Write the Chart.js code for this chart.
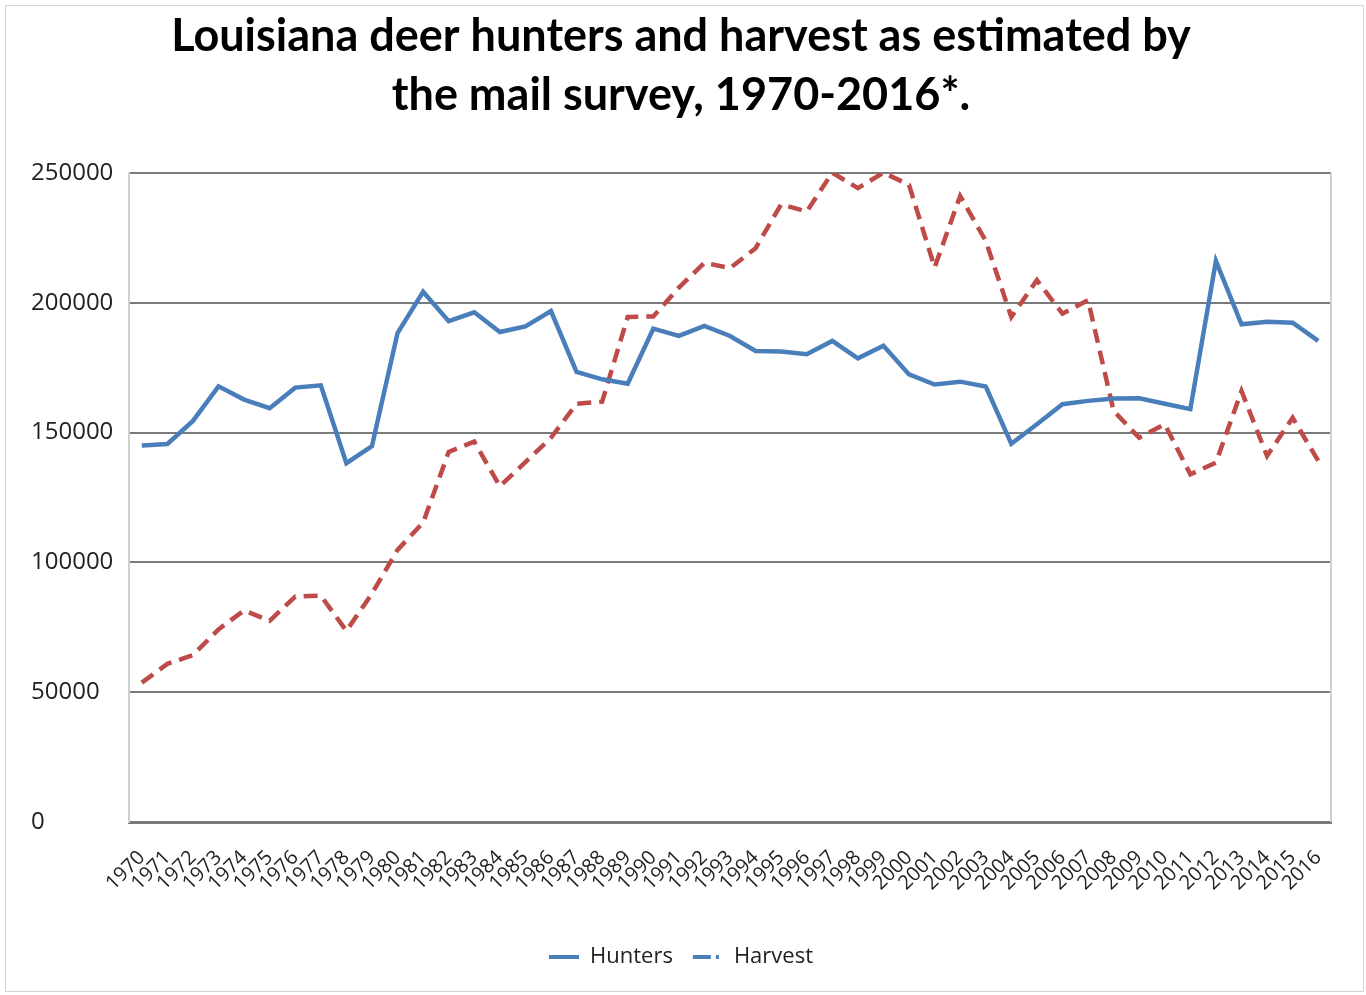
<!DOCTYPE html>
<html>
<head>
<meta charset="utf-8">
<script src="https://cdn.jsdelivr.net/npm/chart.js@4.4.0/dist/chart.umd.min.js"></script>
<style>
  html, body { margin: 0; padding: 0; background: #fff; }
  #wrap { position: absolute; left: 5px; top: 5px; width: 1359px; height: 987px; border: 1px solid #d4d4d4; box-sizing: border-box; }
  #chart { position: absolute; left: -5px; top: -5px; }
</style>
</head>
<body>
<div id="wrap"><canvas id="chart" width="1366" height="995"></canvas></div>
<script>
const years = ['1970','1971','1972','1973','1974','1975','1976','1977','1978','1979',
  '1980','1981','1982','1983','1984','1985','1986','1987','1988','1989',
  '1990','1991','1992','1993','1994','1995','1996','1997','1998','1999',
  '2000','2001','2002','2003','2004','2005','2006','2007','2008','2009',
  '2010','2011','2012','2013','2014','2015','2016'];

const hunters = [145000, 145600, 154500, 167800, 162700, 159400, 167300, 168200, 138200, 144800,
  188300, 204200, 192900, 196300, 188700, 190900, 196800, 173400, 170500, 168800,
  190000, 187200, 191100, 187200, 181400, 181200, 180200, 185300, 178600, 183400,
  172400, 168500, 169600, 167700, 145700, 153200, 160900, 162200, 163100, 163200,
  161100, 159000, 216100, 191700, 192700, 192300, 185300];

const harvest = [53700, 60900, 64300, 74200, 81500, 77500, 86800, 87200, 73600, 88000,
  104800, 115300, 142500, 146500, 129300, 138600, 148000, 161100, 161900, 194500,
  194700, 205800, 215400, 213300, 221000, 237900, 235100, 250100, 244100, 250100,
  245400, 213600, 241100, 223800, 194500, 208700, 195800, 201000, 158300, 148000,
  153200, 133900, 138400, 166000, 141000, 155700, 139100];

const yTicks = [0, 50000, 100000, 150000, 200000, 250000];

const blue = '#4a7ebb';
const red = '#be4b48';

// thin light frame on the right side of the plot area
const rightBorder = {
  id: 'rightBorder',
  afterDraw(chart) {
    const a = chart.chartArea;
    const ctx = chart.ctx;
    ctx.save();
    ctx.strokeStyle = '#d0d0d0';
    ctx.lineWidth = 2;
    ctx.beginPath();
    ctx.moveTo(a.right, a.top);
    ctx.lineTo(a.right, a.bottom);
    ctx.stroke();
    ctx.restore();
  }
};

new Chart(document.getElementById('chart'), {
  type: 'line',
  data: {
    labels: years,
    datasets: [
      {
        label: 'Hunters',
        data: hunters,
        borderColor: blue,
        borderWidth: 4.5,
        pointRadius: 0,
        tension: 0
      },
      {
        label: 'Harvest',
        data: harvest,
        borderColor: red,
        borderWidth: 4.5,
        borderDash: [14, 8],
        pointRadius: 0,
        tension: 0
      }
    ]
  },
  options: {
    responsive: false,
    animation: false,
    layout: { padding: { left: 30, right: 36, top: 6, bottom: 18 } },
    plugins: {
      title: {
        display: true,
        text: ['Louisiana deer hunters and harvest as estimated by', 'the mail survey, 1970-2016*.'],
        color: '#000',
        font: { family: 'Lato', size: 45, weight: 'bold', lineHeight: 1.31 },
        padding: { top: 0, bottom: 48 }
      },
      legend: {
        position: 'bottom',
        labels: {
          color: '#222',
          font: { family: 'Open Sans', size: 22 },
          usePointStyle: true,
          pointStyleWidth: 30,
          padding: 20,
          generateLabels: function(chart) {
            return chart.data.datasets.map(function(ds, i) {
              return {
                text: ds.label,
                datasetIndex: i,
                pointStyle: 'line',
                strokeStyle: blue,
                fillStyle: blue,
                lineWidth: 4,
                lineDash: i === 1 ? [18, 5, 3, 10] : [],
                fontColor: '#222'
              };
            });
          }
        }
      },
      tooltip: { enabled: false }
    },
    scales: {
      x: {
        offset: true,
        grid: { display: false },
        border: { color: '#7a7a7a', width: 3 },
        ticks: {
          color: '#222',
          font: { family: 'Open Sans', size: 20 },
          maxRotation: 45,
          minRotation: 45,
          autoSkip: false,
          padding: 16
        },
        afterFit: function(s) { s.height = 104; }
      },
      y: {
        min: 0,
        max: 250000,
        afterBuildTicks: function(s) { s.ticks = yTicks.map(v => ({ value: v })); },
        grid: { color: '#7a7a7a', lineWidth: 2, drawTicks: false },
        border: { color: '#d0d0d0', width: 2 },
        ticks: {
          color: '#222',
          font: { family: 'Open Sans', size: 24 },
          crossAlign: 'far',
          padding: 14,
          callback: function(v) { return String(v); }
        },
        afterFit: function(s) { s.width = 98; }
      }
    }
  },
  plugins: [rightBorder]
});
</script>
</body>
</html>
